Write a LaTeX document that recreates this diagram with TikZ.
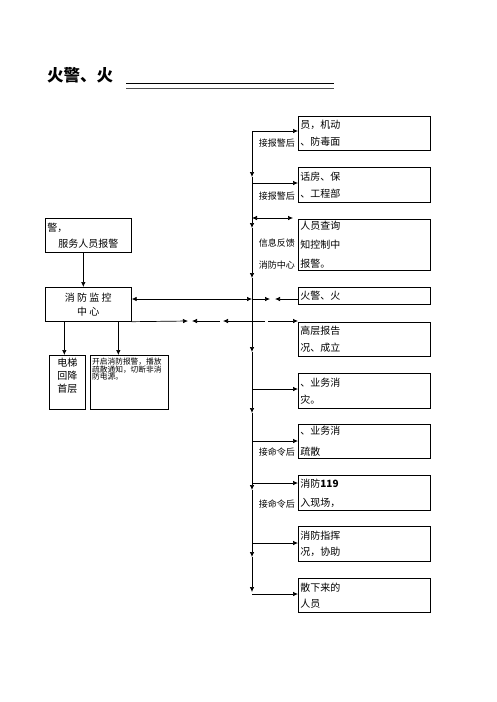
\documentclass[tikz,border=0pt]{standalone}
\usepackage{fontspec}
\setmainfont{Noto Sans CJK SC}
\usetikzlibrary{arrows.meta,positioning,calc}
\newcommand{\fsz}[2]{\fontsize{#1}{#2}\selectfont}

\begin{document}
\begin{tikzpicture}[
    x=1pt, y=-1pt,
    box/.style={rectangle, draw, line width=0.7pt, inner sep=0pt},
    rbox/.style={box, anchor=north west, minimum width=132pt, minimum height=34pt, text width=128pt, align=left, font=\fsz{10}{17}},
    tag/.style={anchor=east, inner sep=0pt, font=\fsz{9}{11}},
    line/.style={draw, -{Latex[length=5pt,width=4.5pt]}, line width=0.7pt},
    dline/.style={draw, {Latex[length=5pt,width=4.5pt]}-{Latex[length=5pt,width=4.5pt]}, line width=0.7pt}
]
    \useasboundingbox (0,0) rectangle (496,702);

    % title
    \node [anchor=west, inner sep=0pt, font=\fsz{16.5}{18}\bfseries] (title) at (47,75) {火警、火};
    \draw [line width=0.8pt] (126,83) -- (334,83);
    \draw [line width=1.6pt, black!70] (126,88.5) -- (334,88.5);

    % left column
    \node [box, anchor=north west, minimum width=86pt, minimum height=34pt, text width=82pt, align=center, font=\fsz{10}{16}] (staff) at (45,218) {\makebox[82pt][l]{警，}\\服务人员报警};
    \draw [line width=1.5pt] (staff.north east) -- ([yshift=-18pt]staff.north east);
    \node [box, anchor=north west, minimum width=86pt, minimum height=34pt, align=center, font=\fsz{10}{14}] (monitor) at (45,287) {消 防 监 控\\中 心};
    \node [box, anchor=north west, minimum width=36pt, minimum height=54pt] (lift) at (49,355) {};
    \node [anchor=north, inner sep=0pt, align=center, font=\fsz{10}{13}] (lifttxt) at ([yshift=-3pt]lift.north) {电梯\\回降\\首层};
    \node [box, anchor=north west, minimum width=78pt, minimum height=54pt] (notice) at (90,355) {};
    \node [anchor=north west, inner sep=0pt, align=left, font=\fsz{7.7}{7.6}] (noticetxt) at ([shift={(2pt,-3pt)}]notice.north west) {开启消防报警，播放\\疏散通知，切断非消\\防电源。};

    \draw [line] ([xshift=-5pt]staff.south) -- ([xshift=-5pt]staff.south |- monitor.north);
    \draw [line] ([xshift=-3pt]lift.north |- monitor.south) -- ([xshift=-3pt]lift.north);
    \draw [line] ([xshift=-11pt]notice.north |- monitor.south) -- ([xshift=-11pt]notice.north);

    % right column
    \node [rbox] (r1) at (298,116) {员，机动\\、防毒面};
    \node [rbox, minimum height=35pt] (r2) at (298,167) {话房、保\\、工程部};
    \node [rbox, minimum height=51pt, font=\fsz{10}{19}] (r3) at (298,219) {人员查询\\知控制中\\报警。};
    \node [rbox, minimum height=17pt] (r4) at (298,287) {火警、火};
    \node [rbox] (r5) at (298,322) {高层报告\\况、成立};
    \node [rbox, minimum height=35pt] (r6) at (298,373) {、业务消\\灾。};
    \node [rbox, font=\fsz{10}{21}] (r7) at (298,424) {、业务消\\疏散};
    \node [rbox, minimum height=35pt, font=\fsz{10}{19}] (r8) at (298,475) {消防\textbf{119}\\入现场，};
    \node [rbox, minimum height=35pt, font=\fsz{10}{16}] (r9) at (298,526) {消防指挥\\况，协助};
    \node [rbox, font=\fsz{10}{16}] (r10) at (298,578) {散下来的\\人员};

    \node [tag] (k1) at (295,143) {接报警后};
    \node [tag] (k2) at (295,196) {接报警后};
    \node [tag] (k3) at (295,243) {信息反馈};
    \node [tag] (k4) at (295,265) {消防中心};
    \node [tag] (k7) at (295,452) {接命令后};
    \node [tag] (k8) at (295,504) {接命令后};

    % main line
    \foreach \n/\y in {0/131, 1/177, 2/228, 3/278, 4/352, 5/413, 6/490, 7/557, 8/592}
        \coordinate (d\n) at (252,\y);
    \foreach \a/\b in {0/1, 1/2, 2/3, 3/4, 4/5, 5/6, 6/7, 7/8}
        \draw [line] (d\a) -- (d\b);

    \foreach \n/\y in {1/131, 2/183, 3/218, 4/299, 5/321, 6/389, 7/441, 8/483, 9/543, 10/594}
        \coordinate (b\n) at (252,\y);
    \foreach \n in {1,2,6,7,8,9,10}
        \draw [line] (b\n) -- (b\n -| r\n.west);

    \coordinate (fb3) at (293,218);
    \draw [dline] (b3) -- (fb3);

    \coordinate (c4a) at (270,299);
    \coordinate (c4b) at (275,299);
    \draw [dline] (b4 -| monitor.east) -- (b4);
    \draw [line] (b4) -- (c4a);
    \draw [line] (b4 -| r4.west) -- (c4b);

    \coordinate (c5a) at (188,321);
    \coordinate (c5b) at (192,321);
    \coordinate (c5c) at (220,321);
    \coordinate (c5d) at (223,321);
    \coordinate (c5e) at (265,321);
    \coordinate (c5f) at (268,321);
    \draw [line] (monitor.south east) -- (c5a);
    \draw [line] (c5c) -- (c5b);
    \draw [line] (c5e) -- (c5d);
    \draw [line] (c5f) -- (c5f -| r5.west);
\end{tikzpicture}
\end{document}
